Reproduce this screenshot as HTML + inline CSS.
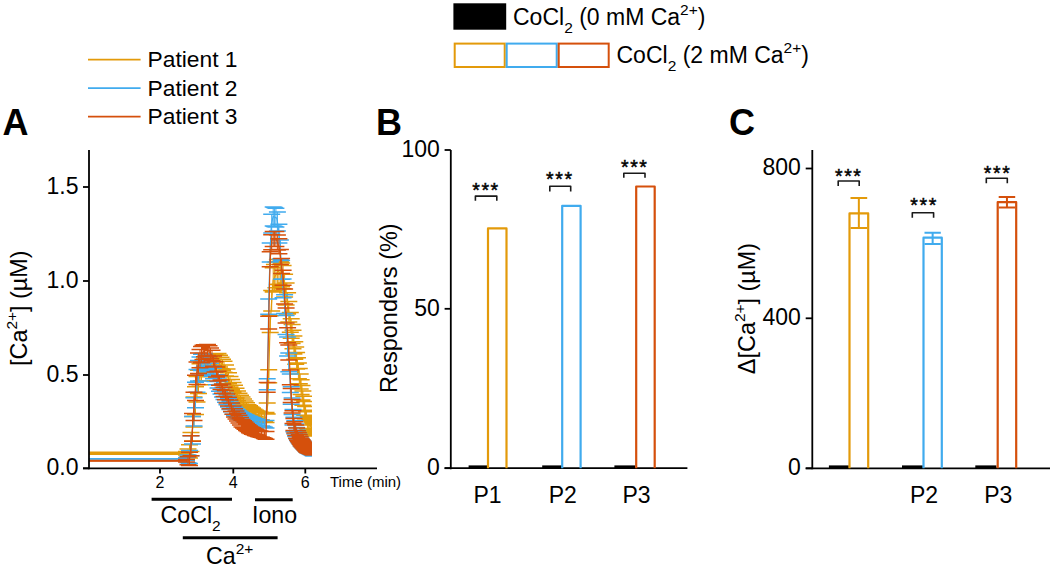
<!DOCTYPE html>
<html><head><meta charset="utf-8"><style>
html,body{margin:0;padding:0;background:#fff;width:1052px;height:568px;overflow:hidden}
svg{display:block}
svg text{font-family:"Liberation Sans", sans-serif;fill:#000}
</style></head><body>
<svg width="1052" height="568" viewBox="0 0 1052 568">
<text x="2.5" y="134.5" font-size="36" text-anchor="start" font-weight="bold" >A</text>
<line x1="88" y1="59.7" x2="140.6" y2="59.7" stroke="#E39A0A" stroke-width="1.8"/>
<text x="147.5" y="67.2" font-size="22.8" text-anchor="start" font-weight="normal" >Patient 1</text>
<line x1="88" y1="88.2" x2="140.6" y2="88.2" stroke="#40ABEE" stroke-width="1.8"/>
<text x="147.5" y="95.7" font-size="22.8" text-anchor="start" font-weight="normal" >Patient 2</text>
<line x1="88" y1="116.7" x2="140.6" y2="116.7" stroke="#D5500C" stroke-width="1.8"/>
<text x="147.5" y="124.2" font-size="22.8" text-anchor="start" font-weight="normal" >Patient 3</text>
<defs><clipPath id="pc"><rect x="89" y="150" width="223" height="318"/></clipPath></defs><g clip-path="url(#pc)">
<path d="M89,453.3H186" fill="none" stroke="#E39A0A" stroke-width="1.9"/>
<path d="M89.0,453.3 L89.6,453.3 L90.2,453.3 L90.8,453.3 L91.4,453.3 L92.0,453.3 L92.6,453.3 L93.2,453.3 L93.8,453.3 L94.4,453.3 L95.0,453.3 L95.6,453.3 L96.2,453.3 L96.8,453.3 L97.4,453.3 L98.0,453.3 L98.6,453.3 L99.2,453.3 L99.8,453.3 L100.4,453.3 L101.0,453.3 L101.6,453.3 L102.2,453.3 L102.8,453.3 L103.4,453.3 L104.0,453.3 L104.6,453.3 L105.2,453.3 L105.8,453.3 L106.4,453.3 L107.0,453.3 L107.6,453.3 L108.2,453.3 L108.8,453.3 L109.4,453.3 L110.0,453.3 L110.6,453.3 L111.2,453.3 L111.8,453.3 L112.4,453.3 L113.0,453.3 L113.6,453.3 L114.2,453.3 L114.8,453.3 L115.4,453.3 L116.0,453.3 L116.6,453.3 L117.2,453.3 L117.8,453.3 L118.4,453.3 L119.0,453.3 L119.6,453.3 L120.2,453.3 L120.8,453.3 L121.4,453.3 L122.0,453.3 L122.6,453.3 L123.2,453.3 L123.8,453.3 L124.4,453.3 L125.0,453.3 L125.6,453.3 L126.2,453.3 L126.8,453.3 L127.4,453.3 L128.0,453.3 L128.6,453.3 L129.2,453.3 L129.8,453.3 L130.4,453.3 L131.0,453.3 L131.6,453.3 L132.2,453.3 L132.8,453.3 L133.4,453.3 L134.0,453.3 L134.6,453.3 L135.2,453.3 L135.8,453.3 L136.4,453.3 L137.0,453.3 L137.6,453.3 L138.2,453.3 L138.8,453.3 L139.4,453.3 L140.0,453.3 L140.6,453.3 L141.2,453.3 L141.8,453.3 L142.4,453.3 L143.0,453.3 L143.6,453.3 L144.2,453.3 L144.8,453.3 L145.4,453.3 L146.0,453.3 L146.6,453.3 L147.2,453.3 L147.8,453.3 L148.4,453.3 L149.0,453.3 L149.6,453.3 L150.2,453.3 L150.8,453.3 L151.4,453.3 L152.0,453.3 L152.6,453.3 L153.2,453.3 L153.8,453.3 L154.4,453.3 L155.0,453.3 L155.6,453.3 L156.2,453.3 L156.8,453.3 L157.4,453.3 L158.0,453.3 L158.6,453.3 L159.2,453.3 L159.8,453.3 L160.4,453.3 L161.0,453.3 L161.6,453.3 L162.2,453.3 L162.8,453.3 L163.4,453.3 L164.0,453.3 L164.6,453.3 L165.2,453.3 L165.8,453.3 L166.4,453.3 L167.0,453.3 L167.6,453.3 L168.2,453.3 L168.8,453.3 L169.4,453.3 L170.0,453.3 L170.6,453.3 L171.2,453.3 L171.8,453.3 L172.4,453.3 L173.0,453.3 L173.6,453.3 L174.2,453.3 L174.8,453.3 L175.4,453.3 L176.0,453.3 L176.6,453.3 L177.2,453.3 L177.8,453.3 L178.4,453.3 L179.0,453.3 L179.6,453.3 L180.2,453.3 L180.8,453.3 L181.4,453.3 L182.0,453.3 L182.6,453.3 L183.2,453.3 L183.8,453.3 L184.4,453.3 L185.0,453.3 L185.6,453.3 L186.2,453.3 L186.8,453.3 L187.4,453.3 L188.0,453.3 L188.6,453.3 L189.2,452.5 L189.8,450.3 L190.4,446.5 L191.0,442.0 L191.6,437.5 L192.2,432.2 L192.8,425.4 L193.4,418.7 L194.0,411.9 L194.6,407.4 L195.2,402.9 L195.8,398.4 L196.4,393.9 L197.0,389.3 L197.6,386.3 L198.2,383.3 L198.8,380.3 L199.4,377.3 L200.0,374.3 L200.6,373.2 L201.2,372.0 L201.8,370.9 L202.4,369.8 L203.0,368.7 L203.6,367.5 L204.2,366.4 L204.8,365.3 L205.4,364.6 L206.0,364.2 L206.6,363.8 L207.2,363.4 L207.8,363.0 L208.4,362.6 L209.0,362.2 L209.6,361.8 L210.2,361.4 L210.8,361.0 L211.4,360.6 L212.0,360.2 L212.6,360.1 L213.2,360.0 L213.8,359.9 L214.4,359.8 L215.0,359.7 L215.6,359.6 L216.2,359.5 L216.8,359.4 L217.4,359.4 L218.0,359.3 L218.6,360.0 L219.2,360.8 L219.8,361.5 L220.4,362.3 L221.0,363.0 L221.6,363.8 L222.2,364.5 L222.8,365.3 L223.4,366.0 L224.0,366.8 L224.6,368.3 L225.2,369.8 L225.8,371.3 L226.4,372.8 L227.0,374.3 L227.6,375.8 L228.2,377.3 L228.8,378.8 L229.4,380.3 L230.0,381.8 L230.6,382.9 L231.2,384.1 L231.8,385.2 L232.4,386.3 L233.0,387.5 L233.6,388.6 L234.2,389.7 L234.8,390.8 L235.4,392.0 L236.0,393.1 L236.6,394.2 L237.2,395.4 L237.8,396.5 L238.4,397.3 L239.0,398.1 L239.6,398.8 L240.2,399.5 L240.8,400.3 L241.4,401.0 L242.0,401.7 L242.6,402.5 L243.2,403.2 L243.8,403.9 L244.4,404.7 L245.0,405.4 L245.6,406.1 L246.2,406.9 L246.8,407.6 L247.4,408.3 L248.0,409.1 L248.6,409.5 L249.2,409.9 L249.8,410.3 L250.4,410.8 L251.0,411.2 L251.6,411.6 L252.2,412.0 L252.8,412.5 L253.4,412.9 L254.0,413.3 L254.6,413.7 L255.2,414.2 L255.8,414.6 L256.4,414.8 L257.0,415.0 L257.6,415.2 L258.2,415.3 L258.8,415.5 L259.4,415.7 L260.0,415.8 L260.6,416.0 L261.2,416.2 L261.8,416.4 L262.4,416.5 L263.0,416.7 L263.6,416.9 L264.2,417.0 L264.8,417.2 L265.4,417.4 L266.0,417.5 L266.6,413.0 L267.2,408.5 L267.8,404.0 L268.4,387.5 L269.0,364.9 L269.6,342.3 L270.2,324.2 L270.8,314.8 L271.4,305.4 L272.0,296.0 L272.6,286.6 L273.2,279.9 L273.8,278.8 L274.4,277.7 L275.0,276.5 L275.6,275.4 L276.2,274.3 L276.8,273.2 L277.4,272.0 L278.0,270.9 L278.6,271.6 L279.2,272.3 L279.8,272.9 L280.4,273.6 L281.0,274.3 L281.6,275.0 L282.2,275.6 L282.8,276.3 L283.4,278.8 L284.0,282.2 L284.6,285.6 L285.2,288.9 L285.8,292.3 L286.4,295.7 L287.0,299.1 L287.6,303.3 L288.2,307.6 L288.8,311.8 L289.4,316.0 L290.0,320.2 L290.6,324.5 L291.2,328.5 L291.8,332.2 L292.4,335.9 L293.0,339.5 L293.6,343.2 L294.2,346.9 L294.8,350.5 L295.4,354.0 L296.0,357.4 L296.6,360.8 L297.2,364.1 L297.8,367.5 L298.4,370.9 L299.0,374.3 L299.6,378.0 L300.2,381.6 L300.8,385.3 L301.4,389.0 L302.0,392.6 L302.6,396.3 L303.2,399.9 L303.8,403.3 L304.4,406.6 L305.0,410.0 L305.6,413.4 L306.2,416.8 L306.8,420.2 L307.4,421.8 L308.0,422.6 L308.6,423.4 L309.2,424.3 L309.8,425.1 L310.4,425.9 L311.0,426.7 L311.6,427.5 L312.2,428.3 L312.8,429.1 L313.4,429.9 L314.0,430.7" fill="none" stroke="#E39A0A" stroke-width="1.2"/>
<path d="M89.0,452.3V454.2M90.5,452.3V454.2M92.0,452.3V454.2M93.5,452.3V454.2M95.0,452.3V454.2M96.5,452.3V454.2M98.0,452.3V454.2M99.5,452.3V454.2M101.0,452.3V454.2M102.5,452.3V454.2M104.0,452.3V454.2M105.5,452.3V454.2M107.0,452.3V454.2M108.5,452.3V454.2M110.0,452.3V454.2M111.5,452.3V454.2M113.0,452.3V454.2M114.5,452.3V454.2M116.0,452.3V454.2M117.5,452.3V454.2M119.0,452.3V454.2M120.5,452.3V454.2M122.0,452.3V454.2M123.5,452.3V454.2M125.0,452.3V454.2M126.5,452.3V454.2M128.0,452.3V454.2M129.5,452.3V454.2M131.0,452.3V454.2M132.5,452.3V454.2M134.0,452.3V454.2M135.5,452.3V454.2M137.0,452.3V454.2M138.5,452.3V454.2M140.0,452.3V454.2M141.5,452.3V454.2M143.0,452.3V454.2M144.5,452.3V454.2M146.0,452.3V454.2M147.5,452.3V454.2M149.0,452.3V454.2M150.5,452.3V454.2M152.0,452.3V454.2M153.5,452.3V454.2M155.0,452.3V454.2M156.5,452.3V454.2M158.0,452.3V454.2M159.5,452.3V454.2M161.0,452.3V454.2M162.5,452.3V454.2M164.0,452.3V454.2M165.5,452.3V454.2M167.0,452.3V454.2M168.5,452.3V454.2M170.0,452.3V454.2M171.5,452.3V454.2M173.0,452.3V454.2M174.5,452.3V454.2M176.0,452.3V454.2M177.5,452.3V454.2M179.0,452.3V454.2M180.5,452.3V454.2M182.0,452.3V454.2M183.5,452.3V454.2M185.0,452.3V454.2M186.5,451.5V455.0M188.0,449.0V457.5M189.5,444.7V458.1M191.0,432.6V451.4M192.5,416.6V441.0M194.0,396.9V426.9M195.5,386.7V414.5M197.0,376.6V402.1M198.5,370.2V393.5M200.0,363.8V384.8M201.5,362.2V380.8M203.0,360.5V376.8M204.5,358.9V372.8M206.0,357.7V370.8M207.5,356.8V369.7M209.0,355.8V368.6M210.5,354.9V367.5M212.0,354.0V366.4M213.5,353.8V366.1M215.0,353.7V365.8M216.5,353.5V365.5M218.0,353.4V365.1M219.5,355.3V366.9M221.0,357.3V368.7M222.5,359.3V370.5M224.0,361.2V372.3M225.5,365.1V376.0M227.0,368.9V379.7M228.5,372.7V383.4M230.0,376.6V387.1M231.5,379.5V389.8M233.0,382.4V392.5M234.5,385.3V395.3M236.0,388.2V398.0M237.5,391.1V400.8M239.0,393.3V402.8M240.5,395.2V404.6M242.0,397.1V406.4M243.5,399.0V408.1M245.0,400.9V409.9M246.5,402.8V411.7M248.0,404.7V413.4M249.5,405.8V414.4M251.0,407.0V415.4M252.5,408.1V416.4M254.0,409.2V417.4M255.5,410.3V418.4M257.0,411.0V419.0M258.5,411.5V419.3M260.0,412.0V419.7M261.5,412.5V420.1M263.0,412.6V420.8M264.5,412.6V421.7M266.0,412.5V422.6M267.2,403.1V413.9M268.7,369.7V382.7M270.2,315.8V332.6M271.7,290.4V310.9M273.2,267.8V292.1M274.4,264.6V290.8M275.9,262.0V287.7M277.4,259.4V284.6M278.9,259.6V284.2M280.4,261.5V285.7M281.6,263.1V286.8M283.1,265.5V288.7M284.6,274.2V296.9M286.1,283.0V305.0M287.6,292.7V314.0M288.8,301.5V322.1M290.3,312.4V332.3M291.2,318.8V338.2M292.1,324.5V343.5M293.0,330.2V348.8M293.9,336.0V354.1M294.8,341.7V359.3M295.7,347.1V364.3M296.6,352.4V369.1M297.5,357.7V374.0M298.4,363.0V378.8M299.3,368.4V383.8M300.2,374.1V389.1M301.1,379.8V394.5M302.0,385.4V399.9M302.9,391.0V405.3M303.8,396.2V410.3M304.7,401.4V415.2M305.6,406.6V420.2M306.5,411.8V425.1M307.4,415.3V428.4M308.3,416.6V429.5M309.2,418.0V430.5M310.1,419.3V431.6M311.0,420.6V432.7M311.9,422.0V433.8M312.8,423.3V434.9M313.7,424.6V436.0" fill="none" stroke="#E39A0A" stroke-width="1.0"/>
<path d="M80.5,452.3h17M80.5,454.2h17M82.0,452.3h17M82.0,454.2h17M83.5,452.3h17M83.5,454.2h17M85.0,452.3h17M85.0,454.2h17M86.5,452.3h17M86.5,454.2h17M88.0,452.3h17M88.0,454.2h17M89.5,452.3h17M89.5,454.2h17M91.0,452.3h17M91.0,454.2h17M92.5,452.3h17M92.5,454.2h17M94.0,452.3h17M94.0,454.2h17M95.5,452.3h17M95.5,454.2h17M97.0,452.3h17M97.0,454.2h17M98.5,452.3h17M98.5,454.2h17M100.0,452.3h17M100.0,454.2h17M101.5,452.3h17M101.5,454.2h17M103.0,452.3h17M103.0,454.2h17M104.5,452.3h17M104.5,454.2h17M106.0,452.3h17M106.0,454.2h17M107.5,452.3h17M107.5,454.2h17M109.0,452.3h17M109.0,454.2h17M110.5,452.3h17M110.5,454.2h17M112.0,452.3h17M112.0,454.2h17M113.5,452.3h17M113.5,454.2h17M115.0,452.3h17M115.0,454.2h17M116.5,452.3h17M116.5,454.2h17M118.0,452.3h17M118.0,454.2h17M119.5,452.3h17M119.5,454.2h17M121.0,452.3h17M121.0,454.2h17M122.5,452.3h17M122.5,454.2h17M124.0,452.3h17M124.0,454.2h17M125.5,452.3h17M125.5,454.2h17M127.0,452.3h17M127.0,454.2h17M128.5,452.3h17M128.5,454.2h17M130.0,452.3h17M130.0,454.2h17M131.5,452.3h17M131.5,454.2h17M133.0,452.3h17M133.0,454.2h17M134.5,452.3h17M134.5,454.2h17M136.0,452.3h17M136.0,454.2h17M137.5,452.3h17M137.5,454.2h17M139.0,452.3h17M139.0,454.2h17M140.5,452.3h17M140.5,454.2h17M142.0,452.3h17M142.0,454.2h17M143.5,452.3h17M143.5,454.2h17M145.0,452.3h17M145.0,454.2h17M146.5,452.3h17M146.5,454.2h17M148.0,452.3h17M148.0,454.2h17M149.5,452.3h17M149.5,454.2h17M151.0,452.3h17M151.0,454.2h17M152.5,452.3h17M152.5,454.2h17M154.0,452.3h17M154.0,454.2h17M155.5,452.3h17M155.5,454.2h17M157.0,452.3h17M157.0,454.2h17M158.5,452.3h17M158.5,454.2h17M160.0,452.3h17M160.0,454.2h17M161.5,452.3h17M161.5,454.2h17M163.0,452.3h17M163.0,454.2h17M164.5,452.3h17M164.5,454.2h17M166.0,452.3h17M166.0,454.2h17M167.5,452.3h17M167.5,454.2h17M169.0,452.3h17M169.0,454.2h17M170.5,452.3h17M170.5,454.2h17M172.0,452.3h17M172.0,454.2h17M173.5,452.3h17M173.5,454.2h17M175.0,452.3h17M175.0,454.2h17M176.5,452.3h17M176.5,454.2h17M178.0,451.5h17M178.0,455.0h17M179.5,449.0h17M179.5,457.5h17M181.0,444.7h17M181.0,458.1h17M182.5,432.6h17M182.5,451.4h17M184.0,416.6h17M184.0,441.0h17M185.5,396.9h17M185.5,426.9h17M187.0,386.7h17M187.0,414.5h17M188.5,376.6h17M188.5,402.1h17M190.0,370.2h17M190.0,393.5h17M191.5,363.8h17M191.5,384.8h17M193.0,362.2h17M193.0,380.8h17M194.5,360.5h17M194.5,376.8h17M196.0,358.9h17M196.0,372.8h17M197.5,357.7h17M197.5,370.8h17M199.0,356.8h17M199.0,369.7h17M200.5,355.8h17M200.5,368.6h17M202.0,354.9h17M202.0,367.5h17M203.5,354.0h17M203.5,366.4h17M205.0,353.8h17M205.0,366.1h17M206.5,353.7h17M206.5,365.8h17M208.0,353.5h17M208.0,365.5h17M209.5,353.4h17M209.5,365.1h17M211.0,355.3h17M211.0,366.9h17M212.5,357.3h17M212.5,368.7h17M214.0,359.3h17M214.0,370.5h17M215.5,361.2h17M215.5,372.3h17M217.0,365.1h17M217.0,376.0h17M218.5,368.9h17M218.5,379.7h17M220.0,372.7h17M220.0,383.4h17M221.5,376.6h17M221.5,387.1h17M223.0,379.5h17M223.0,389.8h17M224.5,382.4h17M224.5,392.5h17M226.0,385.3h17M226.0,395.3h17M227.5,388.2h17M227.5,398.0h17M229.0,391.1h17M229.0,400.8h17M230.5,393.3h17M230.5,402.8h17M232.0,395.2h17M232.0,404.6h17M233.5,397.1h17M233.5,406.4h17M235.0,399.0h17M235.0,408.1h17M236.5,400.9h17M236.5,409.9h17M238.0,402.8h17M238.0,411.7h17M239.5,404.7h17M239.5,413.4h17M241.0,405.8h17M241.0,414.4h17M242.5,407.0h17M242.5,415.4h17M244.0,408.1h17M244.0,416.4h17M245.5,409.2h17M245.5,417.4h17M247.0,410.3h17M247.0,418.4h17M248.5,411.0h17M248.5,419.0h17M250.0,411.5h17M250.0,419.3h17M251.5,412.0h17M251.5,419.7h17M253.0,412.5h17M253.0,420.1h17M254.5,412.6h17M254.5,420.8h17M256.0,412.6h17M256.0,421.7h17M257.5,412.5h17M257.5,422.6h17M258.7,403.1h17M258.7,413.9h17M260.2,369.7h17M260.2,382.7h17M261.7,315.8h17M261.7,332.6h17M263.2,290.4h17M263.2,310.9h17M264.7,267.8h17M264.7,292.1h17M265.9,264.6h17M265.9,290.8h17M267.4,262.0h17M267.4,287.7h17M268.9,259.4h17M268.9,284.6h17M270.4,259.6h17M270.4,284.2h17M271.9,261.5h17M271.9,285.7h17M273.1,263.1h17M273.1,286.8h17M274.6,265.5h17M274.6,288.7h17M276.1,274.2h17M276.1,296.9h17M277.6,283.0h17M277.6,305.0h17M279.1,292.7h17M279.1,314.0h17M280.3,301.5h17M280.3,322.1h17M281.8,312.4h17M281.8,332.3h17M282.7,318.8h17M282.7,338.2h17M283.6,324.5h17M283.6,343.5h17M284.5,330.2h17M284.5,348.8h17M285.4,336.0h17M285.4,354.1h17M286.3,341.7h17M286.3,359.3h17M287.2,347.1h17M287.2,364.3h17M288.1,352.4h17M288.1,369.1h17M289.0,357.7h17M289.0,374.0h17M289.9,363.0h17M289.9,378.8h17M290.8,368.4h17M290.8,383.8h17M291.7,374.1h17M291.7,389.1h17M292.6,379.8h17M292.6,394.5h17M293.5,385.4h17M293.5,399.9h17M294.4,391.0h17M294.4,405.3h17M295.3,396.2h17M295.3,410.3h17M296.2,401.4h17M296.2,415.2h17M297.1,406.6h17M297.1,420.2h17M298.0,411.8h17M298.0,425.1h17M298.9,415.3h17M298.9,428.4h17M299.8,416.6h17M299.8,429.5h17M300.7,418.0h17M300.7,430.5h17M301.6,419.3h17M301.6,431.6h17M302.5,420.6h17M302.5,432.7h17M303.4,422.0h17M303.4,433.8h17M304.3,423.3h17M304.3,434.9h17M305.2,424.6h17M305.2,436.0h17" fill="none" stroke="#E39A0A" stroke-width="1.5"/>
<path d="M89,458.9H186" fill="none" stroke="#40ABEE" stroke-width="1.9"/>
<path d="M89.0,458.9 L89.6,458.9 L90.2,458.9 L90.8,458.9 L91.4,458.9 L92.0,458.9 L92.6,458.9 L93.2,458.9 L93.8,458.9 L94.4,458.9 L95.0,458.9 L95.6,458.9 L96.2,458.9 L96.8,458.9 L97.4,458.9 L98.0,458.9 L98.6,458.9 L99.2,458.9 L99.8,458.9 L100.4,458.9 L101.0,458.9 L101.6,458.9 L102.2,458.9 L102.8,458.9 L103.4,458.9 L104.0,458.9 L104.6,458.9 L105.2,458.9 L105.8,458.9 L106.4,458.9 L107.0,458.9 L107.6,458.9 L108.2,458.9 L108.8,458.9 L109.4,458.9 L110.0,458.9 L110.6,458.9 L111.2,458.9 L111.8,458.9 L112.4,458.9 L113.0,458.9 L113.6,458.9 L114.2,458.9 L114.8,458.9 L115.4,458.9 L116.0,458.9 L116.6,458.9 L117.2,458.9 L117.8,458.9 L118.4,458.9 L119.0,458.9 L119.6,458.9 L120.2,458.9 L120.8,458.9 L121.4,458.9 L122.0,458.9 L122.6,458.9 L123.2,458.9 L123.8,458.9 L124.4,458.9 L125.0,458.9 L125.6,458.9 L126.2,458.9 L126.8,458.9 L127.4,458.9 L128.0,458.9 L128.6,458.9 L129.2,458.9 L129.8,458.9 L130.4,458.9 L131.0,458.9 L131.6,458.9 L132.2,458.9 L132.8,458.9 L133.4,458.9 L134.0,458.9 L134.6,458.9 L135.2,458.9 L135.8,458.9 L136.4,458.9 L137.0,458.9 L137.6,458.9 L138.2,458.9 L138.8,458.9 L139.4,458.9 L140.0,458.9 L140.6,458.9 L141.2,458.9 L141.8,458.9 L142.4,458.9 L143.0,458.9 L143.6,458.9 L144.2,458.9 L144.8,458.9 L145.4,458.9 L146.0,458.9 L146.6,458.9 L147.2,458.9 L147.8,458.9 L148.4,458.9 L149.0,458.9 L149.6,458.9 L150.2,458.9 L150.8,458.9 L151.4,458.9 L152.0,458.9 L152.6,458.9 L153.2,458.9 L153.8,458.9 L154.4,458.9 L155.0,458.9 L155.6,458.9 L156.2,458.9 L156.8,458.9 L157.4,458.9 L158.0,458.9 L158.6,458.9 L159.2,458.9 L159.8,458.9 L160.4,458.9 L161.0,458.9 L161.6,458.9 L162.2,458.9 L162.8,458.9 L163.4,458.9 L164.0,458.9 L164.6,458.9 L165.2,458.9 L165.8,458.9 L166.4,458.9 L167.0,458.9 L167.6,458.9 L168.2,458.9 L168.8,458.9 L169.4,458.9 L170.0,458.9 L170.6,458.9 L171.2,458.9 L171.8,458.9 L172.4,458.9 L173.0,458.9 L173.6,458.9 L174.2,458.9 L174.8,458.9 L175.4,458.9 L176.0,458.9 L176.6,458.9 L177.2,458.9 L177.8,458.9 L178.4,458.9 L179.0,458.9 L179.6,458.9 L180.2,458.9 L180.8,458.9 L181.4,458.9 L182.0,458.9 L182.6,458.9 L183.2,458.9 L183.8,458.9 L184.4,458.9 L185.0,458.9 L185.6,458.9 L186.2,458.9 L186.8,458.9 L187.4,458.9 L188.0,458.9 L188.6,458.9 L189.2,458.1 L189.8,455.9 L190.4,451.4 L191.0,445.7 L191.6,440.1 L192.2,433.9 L192.8,426.6 L193.4,419.2 L194.0,411.9 L194.6,405.1 L195.2,398.4 L195.8,391.6 L196.4,386.0 L197.0,380.9 L197.6,375.8 L198.2,371.8 L198.8,369.9 L199.4,368.0 L200.0,366.2 L200.6,364.3 L201.2,362.8 L201.8,362.0 L202.4,361.3 L203.0,360.5 L203.6,359.8 L204.2,359.5 L204.8,360.3 L205.4,361.0 L206.0,361.8 L206.6,362.5 L207.2,363.3 L207.8,364.3 L208.4,365.3 L209.0,366.2 L209.6,367.2 L210.2,368.2 L210.8,369.1 L211.4,370.1 L212.0,371.1 L212.6,372.0 L213.2,373.0 L213.8,374.0 L214.4,375.2 L215.0,376.5 L215.6,377.8 L216.2,379.1 L216.8,380.4 L217.4,381.8 L218.0,383.1 L218.6,384.4 L219.2,385.7 L219.8,387.0 L220.4,388.2 L221.0,389.3 L221.6,390.5 L222.2,391.6 L222.8,392.7 L223.4,393.9 L224.0,395.0 L224.6,396.1 L225.2,397.2 L225.8,398.4 L226.4,399.4 L227.0,400.4 L227.6,401.3 L228.2,402.3 L228.8,403.3 L229.4,404.2 L230.0,405.2 L230.6,406.2 L231.2,407.1 L231.8,408.1 L232.4,409.1 L233.0,410.0 L233.6,410.5 L234.2,411.0 L234.8,411.5 L235.4,412.0 L236.0,412.4 L236.6,412.9 L237.2,413.4 L237.8,413.9 L238.4,414.4 L239.0,414.9 L239.6,415.3 L240.2,415.8 L240.8,416.0 L241.4,416.3 L242.0,416.6 L242.6,416.9 L243.2,417.2 L243.8,417.4 L244.4,417.7 L245.0,418.0 L245.6,418.3 L246.2,418.6 L246.8,418.9 L247.4,419.1 L248.0,419.4 L248.6,419.6 L249.2,419.8 L249.8,420.1 L250.4,420.3 L251.0,420.5 L251.6,420.7 L252.2,420.9 L252.8,421.1 L253.4,421.3 L254.0,421.5 L254.6,421.7 L255.2,422.0 L255.8,422.2 L256.4,422.3 L257.0,422.4 L257.6,422.5 L258.2,422.7 L258.8,422.8 L259.4,422.9 L260.0,423.0 L260.6,423.1 L261.2,423.2 L261.8,423.3 L262.4,423.4 L263.0,423.6 L263.6,423.7 L264.2,423.8 L264.8,423.9 L265.4,424.0 L266.0,424.1 L266.6,404.2 L267.2,384.3 L267.8,357.4 L268.4,323.5 L269.0,289.7 L269.6,271.1 L270.2,252.5 L270.8,233.9 L271.4,225.4 L272.0,222.0 L272.6,218.6 L273.2,216.5 L273.8,216.8 L274.4,217.0 L275.0,217.3 L275.6,217.6 L276.2,217.9 L276.8,218.2 L277.4,221.5 L278.0,226.4 L278.6,231.3 L279.2,236.2 L279.8,241.1 L280.4,249.5 L281.0,259.6 L281.6,269.8 L282.2,278.7 L282.8,285.1 L283.4,291.5 L284.0,297.8 L284.6,304.2 L285.2,311.5 L285.8,320.5 L286.4,329.6 L287.0,338.6 L287.6,346.5 L288.2,354.4 L288.8,362.3 L289.4,370.5 L290.0,379.0 L290.6,387.5 L291.2,395.5 L291.8,402.7 L292.4,409.9 L293.0,417.2 L293.6,423.5 L294.2,425.4 L294.8,427.4 L295.4,429.3 L296.0,431.2 L296.6,433.2 L297.2,434.8 L297.8,436.0 L298.4,437.1 L299.0,438.2 L299.6,439.3 L300.2,440.5 L300.8,441.6 L301.4,442.5 L302.0,443.2 L302.6,444.0 L303.2,444.7 L303.8,445.5 L304.4,446.2 L305.0,447.0 L305.6,447.7 L306.2,448.5 L306.8,449.2 L307.4,449.8 L308.0,450.2 L308.6,450.6 L309.2,451.0 L309.8,451.4 L310.4,451.8 L311.0,452.2 L311.6,452.6 L312.2,453.0 L312.8,453.4 L313.4,453.8 L314.0,454.2" fill="none" stroke="#40ABEE" stroke-width="1.2"/>
<path d="M186.5,457.6V460.2M188.0,455.0V462.8M189.5,450.4V463.6M191.0,435.7V455.8M192.5,416.4V444.0M194.0,397.8V426.0M195.5,382.3V407.7M197.0,369.6V392.2M198.5,360.6V381.1M200.0,357.0V375.3M201.5,354.3V370.5M203.0,353.5V367.6M204.5,353.9V365.9M206.0,356.2V367.4M207.5,358.3V369.3M209.0,360.8V371.7M210.5,363.3V374.0M212.0,365.8V376.3M213.5,368.3V378.7M215.0,371.4V381.6M216.5,374.8V384.8M218.0,378.1V388.0M219.5,381.5V391.2M221.0,384.6V394.1M222.5,387.5V396.9M224.0,390.4V399.6M225.5,393.3V402.3M227.0,395.9V404.8M228.5,398.4V407.1M230.0,400.9V409.5M231.5,403.4V411.8M233.0,405.9V414.2M234.5,407.2V415.3M236.0,408.5V416.4M237.5,409.8V417.5M239.0,411.0V418.7M240.5,412.2V419.6M242.0,412.9V420.3M243.5,413.7V420.9M245.0,414.5V421.6M246.5,415.2V422.2M248.0,416.0V422.8M249.5,416.6V423.3M251.0,417.2V423.8M252.5,417.8V424.2M254.0,418.4V424.7M255.5,419.0V425.2M257.0,419.4V425.5M258.5,419.7V425.7M260.0,420.1V425.9M261.5,420.4V426.1M263.0,420.5V426.6M264.5,420.4V427.2M266.0,420.4V427.9M267.2,378.8V389.7M268.7,299.1V314.2M270.2,243.1V261.9M271.7,214.3V233.1M273.2,207.1V225.9M274.4,207.6V226.4M275.9,208.3V227.1M277.4,212.1V230.9M278.9,224.3V243.1M280.4,240.1V258.9M281.6,260.4V279.2M283.1,278.9V297.7M284.6,294.8V313.6M286.1,315.6V334.4M287.6,337.1V355.9M288.8,352.9V371.7M290.3,374.0V392.5M291.2,386.8V404.2M292.1,398.1V414.6M293.0,409.5V424.9M293.9,417.3V431.7M294.8,420.7V434.1M295.7,424.1V436.5M296.6,427.5V438.8M297.5,430.2V440.6M298.4,432.4V441.8M299.3,434.6V442.9M300.2,436.7V444.2M301.1,438.5V445.7M302.0,439.7V446.7M302.9,441.0V447.7M303.8,442.2V448.7M304.7,443.5V449.7M305.6,444.7V450.8M306.5,446.0V451.8M307.4,447.0V452.5M308.3,447.7V453.0M309.2,448.5V453.5M310.1,449.2V454.0M311.0,449.9V454.5M311.9,450.6V455.0M312.8,451.4V455.4M313.7,452.1V455.9" fill="none" stroke="#40ABEE" stroke-width="1.0"/>
<path d="M178.0,457.6h17M178.0,460.2h17M179.5,455.0h17M179.5,462.8h17M181.0,450.4h17M181.0,463.6h17M182.5,435.7h17M182.5,455.8h17M184.0,416.4h17M184.0,444.0h17M185.5,397.8h17M185.5,426.0h17M187.0,382.3h17M187.0,407.7h17M188.5,369.6h17M188.5,392.2h17M190.0,360.6h17M190.0,381.1h17M191.5,357.0h17M191.5,375.3h17M193.0,354.3h17M193.0,370.5h17M194.5,353.5h17M194.5,367.6h17M196.0,353.9h17M196.0,365.9h17M197.5,356.2h17M197.5,367.4h17M199.0,358.3h17M199.0,369.3h17M200.5,360.8h17M200.5,371.7h17M202.0,363.3h17M202.0,374.0h17M203.5,365.8h17M203.5,376.3h17M205.0,368.3h17M205.0,378.7h17M206.5,371.4h17M206.5,381.6h17M208.0,374.8h17M208.0,384.8h17M209.5,378.1h17M209.5,388.0h17M211.0,381.5h17M211.0,391.2h17M212.5,384.6h17M212.5,394.1h17M214.0,387.5h17M214.0,396.9h17M215.5,390.4h17M215.5,399.6h17M217.0,393.3h17M217.0,402.3h17M218.5,395.9h17M218.5,404.8h17M220.0,398.4h17M220.0,407.1h17M221.5,400.9h17M221.5,409.5h17M223.0,403.4h17M223.0,411.8h17M224.5,405.9h17M224.5,414.2h17M226.0,407.2h17M226.0,415.3h17M227.5,408.5h17M227.5,416.4h17M229.0,409.8h17M229.0,417.5h17M230.5,411.0h17M230.5,418.7h17M232.0,412.2h17M232.0,419.6h17M233.5,412.9h17M233.5,420.3h17M235.0,413.7h17M235.0,420.9h17M236.5,414.5h17M236.5,421.6h17M238.0,415.2h17M238.0,422.2h17M239.5,416.0h17M239.5,422.8h17M241.0,416.6h17M241.0,423.3h17M242.5,417.2h17M242.5,423.8h17M244.0,417.8h17M244.0,424.2h17M245.5,418.4h17M245.5,424.7h17M247.0,419.0h17M247.0,425.2h17M248.5,419.4h17M248.5,425.5h17M250.0,419.7h17M250.0,425.7h17M251.5,420.1h17M251.5,425.9h17M253.0,420.4h17M253.0,426.1h17M254.5,420.5h17M254.5,426.6h17M256.0,420.4h17M256.0,427.2h17M257.5,420.4h17M257.5,427.9h17M258.7,378.8h17M258.7,389.7h17M260.2,299.1h17M260.2,314.2h17M261.7,243.1h17M261.7,261.9h17M263.2,214.3h17M263.2,233.1h17M264.7,207.1h17M264.7,225.9h17M265.9,207.6h17M265.9,226.4h17M267.4,208.3h17M267.4,227.1h17M268.9,212.1h17M268.9,230.9h17M270.4,224.3h17M270.4,243.1h17M271.9,240.1h17M271.9,258.9h17M273.1,260.4h17M273.1,279.2h17M274.6,278.9h17M274.6,297.7h17M276.1,294.8h17M276.1,313.6h17M277.6,315.6h17M277.6,334.4h17M279.1,337.1h17M279.1,355.9h17M280.3,352.9h17M280.3,371.7h17M281.8,374.0h17M281.8,392.5h17M282.7,386.8h17M282.7,404.2h17M283.6,398.1h17M283.6,414.6h17M284.5,409.5h17M284.5,424.9h17M285.4,417.3h17M285.4,431.7h17M286.3,420.7h17M286.3,434.1h17M287.2,424.1h17M287.2,436.5h17M288.1,427.5h17M288.1,438.8h17M289.0,430.2h17M289.0,440.6h17M289.9,432.4h17M289.9,441.8h17M290.8,434.6h17M290.8,442.9h17M291.7,436.7h17M291.7,444.2h17M292.6,438.5h17M292.6,445.7h17M293.5,439.7h17M293.5,446.7h17M294.4,441.0h17M294.4,447.7h17M295.3,442.2h17M295.3,448.7h17M296.2,443.5h17M296.2,449.7h17M297.1,444.7h17M297.1,450.8h17M298.0,446.0h17M298.0,451.8h17M298.9,447.0h17M298.9,452.5h17M299.8,447.7h17M299.8,453.0h17M300.7,448.5h17M300.7,453.5h17M301.6,449.2h17M301.6,454.0h17M302.5,449.9h17M302.5,454.5h17M303.4,450.6h17M303.4,455.0h17M304.3,451.4h17M304.3,455.4h17M305.2,452.1h17M305.2,455.9h17" fill="none" stroke="#40ABEE" stroke-width="1.5"/>
<path d="M89,460.8H186" fill="none" stroke="#D5500C" stroke-width="1.9"/>
<path d="M89.0,460.8 L89.6,460.8 L90.2,460.8 L90.8,460.8 L91.4,460.8 L92.0,460.8 L92.6,460.8 L93.2,460.8 L93.8,460.8 L94.4,460.8 L95.0,460.8 L95.6,460.8 L96.2,460.8 L96.8,460.8 L97.4,460.8 L98.0,460.8 L98.6,460.8 L99.2,460.8 L99.8,460.8 L100.4,460.8 L101.0,460.8 L101.6,460.8 L102.2,460.8 L102.8,460.8 L103.4,460.8 L104.0,460.8 L104.6,460.8 L105.2,460.8 L105.8,460.8 L106.4,460.8 L107.0,460.8 L107.6,460.8 L108.2,460.8 L108.8,460.8 L109.4,460.8 L110.0,460.8 L110.6,460.8 L111.2,460.8 L111.8,460.8 L112.4,460.8 L113.0,460.8 L113.6,460.8 L114.2,460.8 L114.8,460.8 L115.4,460.8 L116.0,460.8 L116.6,460.8 L117.2,460.8 L117.8,460.8 L118.4,460.8 L119.0,460.8 L119.6,460.8 L120.2,460.8 L120.8,460.8 L121.4,460.8 L122.0,460.8 L122.6,460.8 L123.2,460.8 L123.8,460.8 L124.4,460.8 L125.0,460.8 L125.6,460.8 L126.2,460.8 L126.8,460.8 L127.4,460.8 L128.0,460.8 L128.6,460.8 L129.2,460.8 L129.8,460.8 L130.4,460.8 L131.0,460.8 L131.6,460.8 L132.2,460.8 L132.8,460.8 L133.4,460.8 L134.0,460.8 L134.6,460.8 L135.2,460.8 L135.8,460.8 L136.4,460.8 L137.0,460.8 L137.6,460.8 L138.2,460.8 L138.8,460.8 L139.4,460.8 L140.0,460.8 L140.6,460.8 L141.2,460.8 L141.8,460.8 L142.4,460.8 L143.0,460.8 L143.6,460.8 L144.2,460.8 L144.8,460.8 L145.4,460.8 L146.0,460.8 L146.6,460.8 L147.2,460.8 L147.8,460.8 L148.4,460.8 L149.0,460.8 L149.6,460.8 L150.2,460.8 L150.8,460.8 L151.4,460.8 L152.0,460.8 L152.6,460.8 L153.2,460.8 L153.8,460.8 L154.4,460.8 L155.0,460.8 L155.6,460.8 L156.2,460.8 L156.8,460.8 L157.4,460.8 L158.0,460.8 L158.6,460.8 L159.2,460.8 L159.8,460.8 L160.4,460.8 L161.0,460.8 L161.6,460.8 L162.2,460.8 L162.8,460.8 L163.4,460.8 L164.0,460.8 L164.6,460.8 L165.2,460.8 L165.8,460.8 L166.4,460.8 L167.0,460.8 L167.6,460.8 L168.2,460.8 L168.8,460.8 L169.4,460.8 L170.0,460.8 L170.6,460.8 L171.2,460.8 L171.8,460.8 L172.4,460.8 L173.0,460.8 L173.6,460.8 L174.2,460.8 L174.8,460.8 L175.4,460.8 L176.0,460.8 L176.6,460.8 L177.2,460.8 L177.8,460.8 L178.4,460.8 L179.0,460.8 L179.6,460.8 L180.2,460.8 L180.8,460.8 L181.4,460.8 L182.0,460.8 L182.6,460.8 L183.2,460.8 L183.8,460.8 L184.4,460.8 L185.0,460.8 L185.6,460.8 L186.2,460.8 L186.8,460.8 L187.4,460.8 L188.0,460.8 L188.6,460.8 L189.2,460.0 L189.8,457.8 L190.4,452.5 L191.0,445.7 L191.6,439.0 L192.2,431.6 L192.8,423.2 L193.4,414.7 L194.0,406.3 L194.6,398.9 L195.2,391.6 L195.8,384.3 L196.4,378.4 L197.0,373.4 L197.6,368.3 L198.2,364.3 L198.8,362.4 L199.4,360.5 L200.0,358.6 L200.6,356.8 L201.2,355.2 L201.8,354.2 L202.4,353.3 L203.0,352.4 L203.6,351.4 L204.2,350.8 L204.8,350.6 L205.4,350.5 L206.0,350.3 L206.6,350.2 L207.2,350.0 L207.8,349.9 L208.4,350.4 L209.0,351.3 L209.6,352.1 L210.2,353.0 L210.8,353.8 L211.4,354.7 L212.0,355.5 L212.6,357.8 L213.2,360.0 L213.8,362.3 L214.4,364.5 L215.0,366.8 L215.6,369.0 L216.2,371.1 L216.8,372.8 L217.4,374.5 L218.0,376.2 L218.6,377.9 L219.2,379.6 L219.8,381.3 L220.4,382.9 L221.0,384.6 L221.6,386.3 L222.2,387.9 L222.8,389.2 L223.4,390.5 L224.0,391.8 L224.6,393.2 L225.2,394.5 L225.8,395.8 L226.4,397.1 L227.0,398.4 L227.6,399.7 L228.2,401.0 L228.8,402.1 L229.4,403.3 L230.0,404.4 L230.6,405.5 L231.2,406.6 L231.8,407.8 L232.4,408.9 L233.0,410.0 L233.6,411.1 L234.2,412.3 L234.8,413.4 L235.4,414.3 L236.0,415.1 L236.6,415.9 L237.2,416.7 L237.8,417.5 L238.4,418.3 L239.0,419.2 L239.6,420.0 L240.2,420.8 L240.8,421.6 L241.4,422.4 L242.0,423.2 L242.6,423.7 L243.2,424.2 L243.8,424.7 L244.4,425.2 L245.0,425.6 L245.6,426.1 L246.2,426.6 L246.8,427.1 L247.4,427.6 L248.0,428.1 L248.6,428.6 L249.2,429.1 L249.8,429.6 L250.4,429.9 L251.0,430.2 L251.6,430.5 L252.2,430.8 L252.8,431.1 L253.4,431.4 L254.0,431.6 L254.6,431.9 L255.2,432.2 L255.8,432.5 L256.4,432.8 L257.0,433.0 L257.6,433.3 L258.2,433.6 L258.8,433.7 L259.4,433.8 L260.0,434.0 L260.6,434.1 L261.2,434.3 L261.8,434.4 L262.4,434.6 L263.0,434.7 L263.6,434.8 L264.2,435.0 L264.8,435.1 L265.4,435.3 L266.0,435.4 L266.6,411.4 L267.2,387.5 L267.8,363.5 L268.4,336.7 L269.0,308.5 L269.6,280.3 L270.2,259.2 L270.8,252.5 L271.4,245.7 L272.0,238.9 L272.6,238.9 L273.2,238.9 L273.8,238.9 L274.4,238.9 L275.0,238.9 L275.6,238.9 L276.2,239.4 L276.8,240.9 L277.4,242.4 L278.0,244.0 L278.6,245.5 L279.2,248.0 L279.8,252.5 L280.4,257.0 L281.0,261.5 L281.6,266.0 L282.2,270.5 L282.8,275.0 L283.4,281.6 L284.0,289.1 L284.6,296.6 L285.2,304.1 L285.8,311.6 L286.4,319.4 L287.0,327.3 L287.6,335.2 L288.2,343.5 L288.8,352.5 L289.4,361.5 L290.0,370.5 L290.6,384.1 L291.2,395.5 L291.8,402.7 L292.4,409.9 L293.0,417.2 L293.6,423.5 L294.2,425.4 L294.8,427.4 L295.4,429.3 L296.0,431.2 L296.6,433.2 L297.2,434.8 L297.8,436.0 L298.4,437.1 L299.0,438.2 L299.6,439.3 L300.2,440.5 L300.8,441.6 L301.4,442.5 L302.0,443.2 L302.6,444.0 L303.2,444.7 L303.8,445.5 L304.4,446.2 L305.0,447.0 L305.6,447.7 L306.2,448.5 L306.8,449.2 L307.4,449.7 L308.0,450.0 L308.6,450.4 L309.2,450.7 L309.8,451.0 L310.4,451.3 L311.0,451.6 L311.6,452.0 L312.2,452.3 L312.8,452.6 L313.4,452.9 L314.0,453.3" fill="none" stroke="#D5500C" stroke-width="1.2"/>
<path d="M186.5,459.5V462.0M188.0,456.8V464.7M189.5,452.3V465.5M191.0,435.7V455.8M192.5,413.6V441.2M194.0,392.2V420.4M195.5,375.2V400.6M197.0,362.1V384.6M198.5,353.1V373.6M200.0,349.5V367.8M201.5,346.6V362.8M203.0,345.3V359.4M204.5,344.7V356.7M206.0,344.7V355.9M207.5,344.5V355.5M209.0,345.8V356.7M210.5,348.0V358.7M212.0,350.2V360.8M213.5,356.0V366.3M215.0,361.7V371.9M216.5,366.9V377.0M218.0,371.2V381.1M219.5,375.5V385.3M221.0,379.9V389.4M222.5,383.9V393.3M224.0,387.2V396.5M225.5,390.6V399.7M227.0,394.0V402.9M228.5,397.2V405.9M230.0,400.1V408.7M231.5,403.0V411.4M233.0,405.9V414.2M234.5,408.8V416.9M236.0,411.1V419.1M237.5,413.2V421.0M239.0,415.3V423.0M240.5,417.4V424.9M242.0,419.5V426.9M243.5,420.8V428.0M245.0,422.1V429.2M246.5,423.4V430.4M248.0,424.7V431.5M249.5,426.0V432.7M251.0,426.9V433.5M252.5,427.7V434.2M254.0,428.5V434.8M255.5,429.2V435.4M257.0,430.0V436.1M258.5,430.7V436.6M260.0,431.1V436.9M261.5,431.5V437.2M263.0,431.6V437.7M264.5,431.6V438.5M266.0,431.6V439.2M267.2,382.6V392.3M268.7,316.3V328.9M270.2,251.7V266.8M271.7,234.8V249.8M273.2,231.4V246.5M274.4,231.4V246.5M275.9,231.4V246.5M277.4,234.9V250.0M278.9,238.7V253.7M280.4,249.5V264.5M281.6,258.5V273.5M283.1,270.3V285.3M284.6,289.1V304.1M286.1,307.9V323.0M287.6,327.7V342.7M288.8,345.0V360.0M290.3,369.9V384.7M291.2,388.4V402.6M292.1,399.6V413.1M293.0,410.8V423.6M293.9,418.4V430.5M294.8,421.7V433.1M295.7,424.9V435.6M296.6,428.1V438.2M297.5,430.7V440.1M298.4,432.7V441.5M299.3,434.8V442.8M300.2,436.7V444.2M301.1,438.5V445.7M302.0,439.7V446.7M302.9,441.0V447.7M303.8,442.2V448.7M304.7,443.5V449.7M305.6,444.7V450.8M306.5,446.0V451.8M307.4,446.9V452.5M308.3,447.6V452.8M309.2,448.2V453.2M310.1,448.8V453.6M311.0,449.4V453.9M311.9,450.0V454.3M312.8,450.6V454.7M313.7,451.2V455.0" fill="none" stroke="#D5500C" stroke-width="1.0"/>
<path d="M178.0,459.5h17M178.0,462.0h17M179.5,456.8h17M179.5,464.7h17M181.0,452.3h17M181.0,465.5h17M182.5,435.7h17M182.5,455.8h17M184.0,413.6h17M184.0,441.2h17M185.5,392.2h17M185.5,420.4h17M187.0,375.2h17M187.0,400.6h17M188.5,362.1h17M188.5,384.6h17M190.0,353.1h17M190.0,373.6h17M191.5,349.5h17M191.5,367.8h17M193.0,346.6h17M193.0,362.8h17M194.5,345.3h17M194.5,359.4h17M196.0,344.7h17M196.0,356.7h17M197.5,344.7h17M197.5,355.9h17M199.0,344.5h17M199.0,355.5h17M200.5,345.8h17M200.5,356.7h17M202.0,348.0h17M202.0,358.7h17M203.5,350.2h17M203.5,360.8h17M205.0,356.0h17M205.0,366.3h17M206.5,361.7h17M206.5,371.9h17M208.0,366.9h17M208.0,377.0h17M209.5,371.2h17M209.5,381.1h17M211.0,375.5h17M211.0,385.3h17M212.5,379.9h17M212.5,389.4h17M214.0,383.9h17M214.0,393.3h17M215.5,387.2h17M215.5,396.5h17M217.0,390.6h17M217.0,399.7h17M218.5,394.0h17M218.5,402.9h17M220.0,397.2h17M220.0,405.9h17M221.5,400.1h17M221.5,408.7h17M223.0,403.0h17M223.0,411.4h17M224.5,405.9h17M224.5,414.2h17M226.0,408.8h17M226.0,416.9h17M227.5,411.1h17M227.5,419.1h17M229.0,413.2h17M229.0,421.0h17M230.5,415.3h17M230.5,423.0h17M232.0,417.4h17M232.0,424.9h17M233.5,419.5h17M233.5,426.9h17M235.0,420.8h17M235.0,428.0h17M236.5,422.1h17M236.5,429.2h17M238.0,423.4h17M238.0,430.4h17M239.5,424.7h17M239.5,431.5h17M241.0,426.0h17M241.0,432.7h17M242.5,426.9h17M242.5,433.5h17M244.0,427.7h17M244.0,434.2h17M245.5,428.5h17M245.5,434.8h17M247.0,429.2h17M247.0,435.4h17M248.5,430.0h17M248.5,436.1h17M250.0,430.7h17M250.0,436.6h17M251.5,431.1h17M251.5,436.9h17M253.0,431.5h17M253.0,437.2h17M254.5,431.6h17M254.5,437.7h17M256.0,431.6h17M256.0,438.5h17M257.5,431.6h17M257.5,439.2h17M258.7,382.6h17M258.7,392.3h17M260.2,316.3h17M260.2,328.9h17M261.7,251.7h17M261.7,266.8h17M263.2,234.8h17M263.2,249.8h17M264.7,231.4h17M264.7,246.5h17M265.9,231.4h17M265.9,246.5h17M267.4,231.4h17M267.4,246.5h17M268.9,234.9h17M268.9,250.0h17M270.4,238.7h17M270.4,253.7h17M271.9,249.5h17M271.9,264.5h17M273.1,258.5h17M273.1,273.5h17M274.6,270.3h17M274.6,285.3h17M276.1,289.1h17M276.1,304.1h17M277.6,307.9h17M277.6,323.0h17M279.1,327.7h17M279.1,342.7h17M280.3,345.0h17M280.3,360.0h17M281.8,369.9h17M281.8,384.7h17M282.7,388.4h17M282.7,402.6h17M283.6,399.6h17M283.6,413.1h17M284.5,410.8h17M284.5,423.6h17M285.4,418.4h17M285.4,430.5h17M286.3,421.7h17M286.3,433.1h17M287.2,424.9h17M287.2,435.6h17M288.1,428.1h17M288.1,438.2h17M289.0,430.7h17M289.0,440.1h17M289.9,432.7h17M289.9,441.5h17M290.8,434.8h17M290.8,442.8h17M291.7,436.7h17M291.7,444.2h17M292.6,438.5h17M292.6,445.7h17M293.5,439.7h17M293.5,446.7h17M294.4,441.0h17M294.4,447.7h17M295.3,442.2h17M295.3,448.7h17M296.2,443.5h17M296.2,449.7h17M297.1,444.7h17M297.1,450.8h17M298.0,446.0h17M298.0,451.8h17M298.9,446.9h17M298.9,452.5h17M299.8,447.6h17M299.8,452.8h17M300.7,448.2h17M300.7,453.2h17M301.6,448.8h17M301.6,453.6h17M302.5,449.4h17M302.5,453.9h17M303.4,450.0h17M303.4,454.3h17M304.3,450.6h17M304.3,454.7h17M305.2,451.2h17M305.2,455.0h17" fill="none" stroke="#D5500C" stroke-width="1.5"/>
</g>
<line x1="89" y1="150" x2="89" y2="469.2" stroke="#000" stroke-width="1.8"/>
<line x1="83" y1="468.3" x2="377" y2="468.3" stroke="#000" stroke-width="1.8"/>
<line x1="83" y1="187" x2="89" y2="187" stroke="#000" stroke-width="1.8"/>
<text x="78.5" y="193.8" font-size="23" text-anchor="end" font-weight="normal" >1.5</text>
<line x1="83" y1="281" x2="89" y2="281" stroke="#000" stroke-width="1.8"/>
<text x="78.5" y="287.8" font-size="23" text-anchor="end" font-weight="normal" >1.0</text>
<line x1="83" y1="375" x2="89" y2="375" stroke="#000" stroke-width="1.8"/>
<text x="78.5" y="381.8" font-size="23" text-anchor="end" font-weight="normal" >0.5</text>
<line x1="83" y1="468.3" x2="89" y2="468.3" stroke="#000" stroke-width="1.8"/>
<text x="78.5" y="475.1" font-size="23" text-anchor="end" font-weight="normal" >0.0</text>
<line x1="160" y1="468.3" x2="160" y2="473.5" stroke="#000" stroke-width="1.8"/>
<text x="160" y="488" font-size="16" text-anchor="middle" font-weight="normal" >2</text>
<line x1="233.3" y1="468.3" x2="233.3" y2="473.5" stroke="#000" stroke-width="1.8"/>
<text x="233.3" y="488" font-size="16" text-anchor="middle" font-weight="normal" >4</text>
<line x1="305.3" y1="468.3" x2="305.3" y2="473.5" stroke="#000" stroke-width="1.8"/>
<text x="305.3" y="488" font-size="16" text-anchor="middle" font-weight="normal" >6</text>
<text x="330" y="487.4" font-size="15" text-anchor="start" font-weight="normal" >Time (min)</text>
<line x1="151.6" y1="499.2" x2="232" y2="499.2" stroke="#000" stroke-width="3"/>
<line x1="255" y1="499.7" x2="292.7" y2="499.7" stroke="#000" stroke-width="3"/>
<line x1="182.8" y1="537.7" x2="277.6" y2="537.7" stroke="#000" stroke-width="3"/>
<text x="160.5" y="522.5" font-size="23.2" text-anchor="start" font-weight="normal" >CoCl<tspan font-size="15.5" dy="8">2</tspan></text>
<text x="252" y="522.5" font-size="23.2" text-anchor="start" font-weight="normal" >Iono</text>
<text x="206" y="563.5" font-size="23.2" text-anchor="start" font-weight="normal" >Ca<tspan font-size="15.5" dy="-10">2+</tspan></text>
<g transform="translate(26.6,308.2) rotate(-90)">
<text x="0" y="0" font-size="23.4" text-anchor="middle" font-weight="normal" >[Ca<tspan font-size="15.5" dy="-10">2+</tspan><tspan dy="10">] (µM)</tspan></text>
</g>
<text x="376" y="134.5" font-size="36" text-anchor="start" font-weight="bold" >B</text>
<line x1="450.8" y1="150" x2="450.8" y2="469.2" stroke="#000" stroke-width="1.8"/>
<line x1="444.6" y1="468.2" x2="687.4" y2="468.2" stroke="#000" stroke-width="1.8"/>
<line x1="444.6" y1="150" x2="450.8" y2="150" stroke="#000" stroke-width="1.8"/>
<text x="439.8" y="156.8" font-size="23" text-anchor="end" font-weight="normal" >100</text>
<line x1="444.6" y1="308.8" x2="450.8" y2="308.8" stroke="#000" stroke-width="1.8"/>
<text x="439.8" y="315.6" font-size="23" text-anchor="end" font-weight="normal" >50</text>
<line x1="444.6" y1="468.2" x2="450.8" y2="468.2" stroke="#000" stroke-width="1.8"/>
<text x="439.8" y="475.0" font-size="23" text-anchor="end" font-weight="normal" >0</text>
<rect x="468.6" y="465.4" width="18.599999999999966" height="2.8000000000000114" fill="#000"/>
<path d="M488.00,468.2V228.40H506.50V468.2" fill="none" stroke="#E39A0A" stroke-width="2.2" stroke-linejoin="round"/>
<rect x="542.2" y="465.4" width="19.799999999999955" height="2.8000000000000114" fill="#000"/>
<path d="M562.20,468.2V205.80H580.60V468.2" fill="none" stroke="#40ABEE" stroke-width="2.2" stroke-linejoin="round"/>
<rect x="614.4" y="465.4" width="20.600000000000023" height="2.8000000000000114" fill="#000"/>
<path d="M636.20,468.2V186.50H654.70V468.2" fill="none" stroke="#D5500C" stroke-width="2.2" stroke-linejoin="round"/>
<path d="M475.40000000000003,200.7V196.1H496.8V200.7" fill="none" stroke="#1a1a1a" stroke-width="1.6" stroke-linejoin="round"/>
<text x="476.0" y="197.3" font-size="19.5" text-anchor="middle" font-weight="normal" stroke="#000" stroke-width="0.45">*</text>
<text x="485.2" y="197.3" font-size="19.5" text-anchor="middle" font-weight="normal" stroke="#000" stroke-width="0.45">*</text>
<text x="494.4" y="197.3" font-size="19.5" text-anchor="middle" font-weight="normal" stroke="#000" stroke-width="0.45">*</text>
<path d="M549.8,191.4V186.29999999999998H570.7V191.4" fill="none" stroke="#1a1a1a" stroke-width="1.6" stroke-linejoin="round"/>
<text x="549.9" y="186.4" font-size="19.5" text-anchor="middle" font-weight="normal" stroke="#000" stroke-width="0.45">*</text>
<text x="559.1" y="186.4" font-size="19.5" text-anchor="middle" font-weight="normal" stroke="#000" stroke-width="0.45">*</text>
<text x="568.3" y="186.4" font-size="19.5" text-anchor="middle" font-weight="normal" stroke="#000" stroke-width="0.45">*</text>
<path d="M623.8,177.7V173.2H645.0V177.7" fill="none" stroke="#1a1a1a" stroke-width="1.6" stroke-linejoin="round"/>
<text x="624.75" y="173.7" font-size="19.5" text-anchor="middle" font-weight="normal" stroke="#000" stroke-width="0.45">*</text>
<text x="633.95" y="173.7" font-size="19.5" text-anchor="middle" font-weight="normal" stroke="#000" stroke-width="0.45">*</text>
<text x="643.15" y="173.7" font-size="19.5" text-anchor="middle" font-weight="normal" stroke="#000" stroke-width="0.45">*</text>
<text x="487.6" y="502.8" font-size="23" text-anchor="middle" font-weight="normal" >P1</text>
<text x="562.8" y="502.8" font-size="23" text-anchor="middle" font-weight="normal" >P2</text>
<text x="636.6" y="502.8" font-size="23" text-anchor="middle" font-weight="normal" >P3</text>
<g transform="translate(397,308.2) rotate(-90)">
<text x="0" y="0" font-size="23.5" text-anchor="middle" font-weight="normal" >Responders (%)</text>
</g>
<text x="729" y="134.5" font-size="36" text-anchor="start" font-weight="bold" >C</text>
<line x1="812.3" y1="150" x2="812.3" y2="469.2" stroke="#000" stroke-width="1.8"/>
<line x1="805.7" y1="468.3" x2="1050" y2="468.3" stroke="#000" stroke-width="1.8"/>
<line x1="805.7" y1="168.5" x2="812.3" y2="168.5" stroke="#000" stroke-width="1.8"/>
<text x="800.8" y="175.3" font-size="23" text-anchor="end" font-weight="normal" >800</text>
<line x1="805.7" y1="318.3" x2="812.3" y2="318.3" stroke="#000" stroke-width="1.8"/>
<text x="800.8" y="325.1" font-size="23" text-anchor="end" font-weight="normal" >400</text>
<line x1="805.7" y1="468.3" x2="812.3" y2="468.3" stroke="#000" stroke-width="1.8"/>
<text x="800.8" y="475.1" font-size="23" text-anchor="end" font-weight="normal" >0</text>
<rect x="828.9" y="465.4" width="19.899999999999977" height="2.900000000000034" fill="#000"/>
<path d="M849.50,468.3V213.40H868.20V468.3" fill="none" stroke="#E39A0A" stroke-width="2.2" stroke-linejoin="round"/>
<path d="M858.85,198V228M850.5,198H867.2M850.5,228H867.2" fill="none" stroke="#E39A0A" stroke-width="2"/>
<rect x="902" y="465.4" width="20.799999999999955" height="2.900000000000034" fill="#000"/>
<path d="M923.50,468.3V237.70H941.80V468.3" fill="none" stroke="#40ABEE" stroke-width="2.2" stroke-linejoin="round"/>
<path d="M932.65,232.8V244M924.5,232.8H940.8M924.5,244H940.8" fill="none" stroke="#40ABEE" stroke-width="2"/>
<rect x="975.3" y="465.4" width="21.100000000000023" height="2.900000000000034" fill="#000"/>
<path d="M997.70,468.3V202.20H1016.20V468.3" fill="none" stroke="#D5500C" stroke-width="2.2" stroke-linejoin="round"/>
<path d="M1006.95,196.9V207.5M998.7,196.9H1015.2M998.7,207.5H1015.2" fill="none" stroke="#D5500C" stroke-width="2"/>
<path d="M838.1999999999999,186.1V181.0H859.2V186.1" fill="none" stroke="#1a1a1a" stroke-width="1.6" stroke-linejoin="round"/>
<text x="838.75" y="183.3" font-size="19.5" text-anchor="middle" font-weight="normal" stroke="#000" stroke-width="0.45">*</text>
<text x="847.95" y="183.3" font-size="19.5" text-anchor="middle" font-weight="normal" stroke="#000" stroke-width="0.45">*</text>
<text x="857.15" y="183.3" font-size="19.5" text-anchor="middle" font-weight="normal" stroke="#000" stroke-width="0.45">*</text>
<path d="M912.3,217.7V212.79999999999998H933.6V217.7" fill="none" stroke="#1a1a1a" stroke-width="1.6" stroke-linejoin="round"/>
<text x="914.1" y="212.3" font-size="19.5" text-anchor="middle" font-weight="normal" stroke="#000" stroke-width="0.45">*</text>
<text x="923.3" y="212.3" font-size="19.5" text-anchor="middle" font-weight="normal" stroke="#000" stroke-width="0.45">*</text>
<text x="932.5" y="212.3" font-size="19.5" text-anchor="middle" font-weight="normal" stroke="#000" stroke-width="0.45">*</text>
<path d="M986.3,183.2V178.29999999999998H1007.3000000000001V183.2" fill="none" stroke="#1a1a1a" stroke-width="1.6" stroke-linejoin="round"/>
<text x="987.6" y="180.0" font-size="19.5" text-anchor="middle" font-weight="normal" stroke="#000" stroke-width="0.45">*</text>
<text x="996.8" y="180.0" font-size="19.5" text-anchor="middle" font-weight="normal" stroke="#000" stroke-width="0.45">*</text>
<text x="1006.0" y="180.0" font-size="19.5" text-anchor="middle" font-weight="normal" stroke="#000" stroke-width="0.45">*</text>
<text x="924" y="503" font-size="23" text-anchor="middle" font-weight="normal" >P2</text>
<text x="998.2" y="503" font-size="23" text-anchor="middle" font-weight="normal" >P3</text>
<g transform="translate(754.6,308.5) rotate(-90)">
<text x="0" y="0" font-size="23.4" text-anchor="middle" font-weight="normal" >Δ[Ca<tspan font-size="15.5" dy="-10">2+</tspan><tspan dy="10">] (µM)</tspan></text>
</g>
<rect x="453.4" y="3.3" width="52.8" height="26.4" fill="#000"/>
<rect x="454.7" y="43.6" width="50" height="23.4" fill="none" stroke="#E39A0A" stroke-width="2"/>
<rect x="506.7" y="43.6" width="50" height="23.4" fill="none" stroke="#40ABEE" stroke-width="2"/>
<rect x="558.7" y="43.6" width="50" height="23.4" fill="none" stroke="#D5500C" stroke-width="2"/>
<text x="513" y="24.5" font-size="23" text-anchor="start" font-weight="normal" >CoCl<tspan font-size="15.5" dy="8">2</tspan><tspan dy="-8"> (0 mM Ca</tspan><tspan font-size="15.5" dy="-10">2+</tspan><tspan dy="10">)</tspan></text>
<text x="616.5" y="62.5" font-size="23" text-anchor="start" font-weight="normal" >CoCl<tspan font-size="15.5" dy="8">2</tspan><tspan dy="-8"> (2 mM Ca</tspan><tspan font-size="15.5" dy="-10">2+</tspan><tspan dy="10">)</tspan></text>
</svg>
</body></html>
